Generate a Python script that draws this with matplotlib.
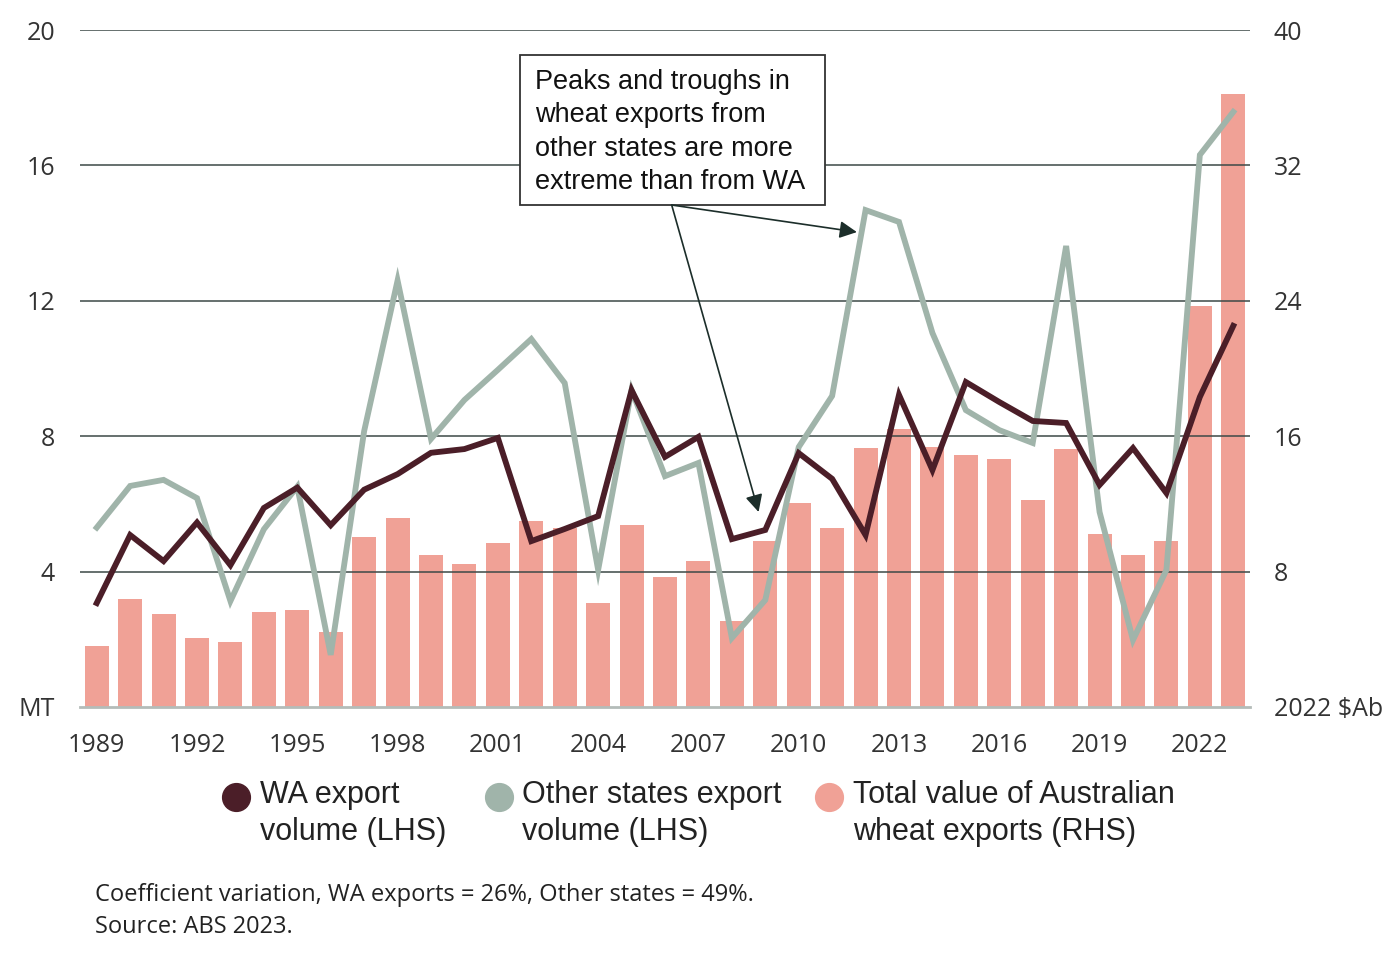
import matplotlib
matplotlib.use("Agg")
import matplotlib.pyplot as plt
import matplotlib.lines as mlines
from matplotlib.patches import Rectangle

# Financial years shown on the x axis
years = list(range(1989, 2024))

# WA export volume, million tonnes (left axis)
wa_volume = [3.07, 5.08, 4.31, 5.45, 4.19, 5.88, 6.48, 5.37, 6.42, 6.88,
             7.51, 7.62, 7.95, 4.90, 5.26, 5.64, 9.36, 7.39, 7.98, 4.96,
             5.23, 7.50, 6.74, 5.08, 9.22, 7.00, 9.60, 9.01, 8.45, 8.39,
             6.56, 7.65, 6.32, 9.16, 11.26]

# Other states export volume, million tonnes (left axis)
other_volume = [5.30, 6.53, 6.71, 6.17, 3.13, 5.25, 6.51, 1.54, 8.15, 12.60,
                7.92, 9.07, 9.96, 10.87, 9.57, 4.05, 9.36, 6.82, 7.21, 2.04,
                3.16, 7.68, 9.19, 14.68, 14.33, 11.05, 8.77, 8.18, 7.80, 13.62,
                5.76, 1.98, 4.05, 16.31, 17.58]

# Total value of Australian wheat exports, 2022 $Ab (right axis)
total_value = [3.60, 6.38, 5.49, 4.08, 3.84, 5.61, 5.73, 4.43, 10.04, 11.17,
               8.98, 8.45, 9.69, 10.99, 10.58, 6.14, 10.75, 7.68, 8.63, 5.08,
               9.81, 12.05, 10.58, 15.30, 16.43, 15.36, 14.89, 14.65, 12.23, 15.24,
               10.22, 8.98, 9.81, 23.69, 36.22]

left_ticks = [0, 4, 8, 12, 16, 20]
left_labels = ["MT", "4", "8", "12", "16", "20"]
right_ticks = [0, 8, 16, 24, 32, 40]
right_labels = ["2022 $Ab", "8", "16", "24", "32", "40"]
year_ticks = list(range(1989, 2023, 3))

legend_labels = ["WA export\nvolume (LHS)",
                 "Other states export\nvolume (LHS)",
                 "Total value of Australian\nwheat exports (RHS)"]

WA_COLOR = "#4b1e28"
OTHER_COLOR = "#a0b4aa"
BAR_COLOR = "#f0a196"
GRID_COLOR = "#3d4a47"
TEXT_COLOR = "#333333"

W, H = 1399, 959
fig = plt.figure(figsize=(W / 100, H / 100), dpi=100)
ax = fig.add_axes([80 / W, 1 - 707 / H, (1250 - 80) / W, (707 - 30) / H])
ax2 = ax.twinx()

# bars sit on the right axis, behind the lines
ax.set_zorder(ax2.get_zorder() + 1)
ax.patch.set_visible(False)

ax2.bar(years, total_value, width=0.72, color=BAR_COLOR, zorder=1)

ax.plot(years, other_volume, color=OTHER_COLOR, lw=4.2, zorder=4,
        solid_joinstyle="miter")
ax.plot(years, wa_volume, color=WA_COLOR, lw=4.2, zorder=4,
        solid_joinstyle="miter")

# horizontal gridlines (drawn over the bars)
for v in left_ticks[1:]:
    ax.axhline(v, color=GRID_COLOR, lw=1.3, alpha=0.85, zorder=2)

ax.set_xlim(1988.5, 2023.5)
ax.set_ylim(0, 20)
ax2.set_ylim(0, 40)

ax.set_yticks(left_ticks)
ax.set_yticklabels(left_labels)
ax2.set_yticks(right_ticks)
ax2.set_yticklabels(right_labels)
ax.set_xticks(year_ticks)
ax.set_xticklabels([str(y) for y in year_ticks])

for lab in ax.get_yticklabels() + ax2.get_yticklabels() + ax.get_xticklabels():
    lab.set_fontfamily("Open Sans")
    lab.set_fontsize(18)
    lab.set_color(TEXT_COLOR)

ax.tick_params(axis="y", length=0, pad=18)
ax2.tick_params(axis="y", length=0, pad=17)
ax.tick_params(axis="x", length=0, pad=19)

for a in (ax, ax2):
    for s in ("top", "left", "right", "bottom"):
        a.spines[s].set_visible(False)
ax.axhline(0, color="#b4bcb9", lw=2, zorder=3, clip_on=False)

# annotation box with two arrows
ax.add_patch(Rectangle((2001.66, 14.83), 9.12, 4.43, facecolor="white",
                       edgecolor="#333333", lw=1.3, zorder=6))
ax.text(2002.1, 18.84,
        "Peaks and troughs in\nwheat exports from\nother states are more\nextreme than from WA",
        family="Liberation Sans", fontsize=19.5, color="#111111",
        va="top", ha="left", linespacing=1.36, zorder=7)
arrow = dict(arrowstyle="-|>", mutation_scale=26, lw=1.2, color="#1c2e2a",
             shrinkA=0, shrinkB=0)
ax.annotate("", xy=(2011.74, 14.03), xytext=(2006.2, 14.83),
            arrowprops=arrow, zorder=7)
ax.annotate("", xy=(2008.8, 5.76), xytext=(2006.2, 14.83),
            arrowprops=arrow, zorder=7)

# legend drawn by hand so the dot sits next to the first text line
legend_colors = [WA_COLOR, OTHER_COLOR, BAR_COLOR]
dot_x = [236, 499, 829]
text_x = [260, 522, 853]
for lbl, c, dx, tx in zip(legend_labels, legend_colors, dot_x, text_x):
    fig.add_artist(mlines.Line2D([dx / W], [1 - 797 / H], marker="o",
                                 markersize=20, color=c, linestyle="none",
                                 transform=fig.transFigure))
    fig.text(tx / W, 1 - 780 / H, lbl, family="Liberation Sans", fontsize=22,
             color="#222222", va="top", ha="left", linespacing=1.3)

fig.text(95 / W, 1 - 883 / H,
         "Coefficient variation, WA exports = 26%, Other states = 49%.\nSource: ABS 2023.",
         family="Open Sans", fontsize=17, color="#222222", va="top", ha="left",
         linespacing=1.45)

fig.savefig("out.png", dpi=100)
